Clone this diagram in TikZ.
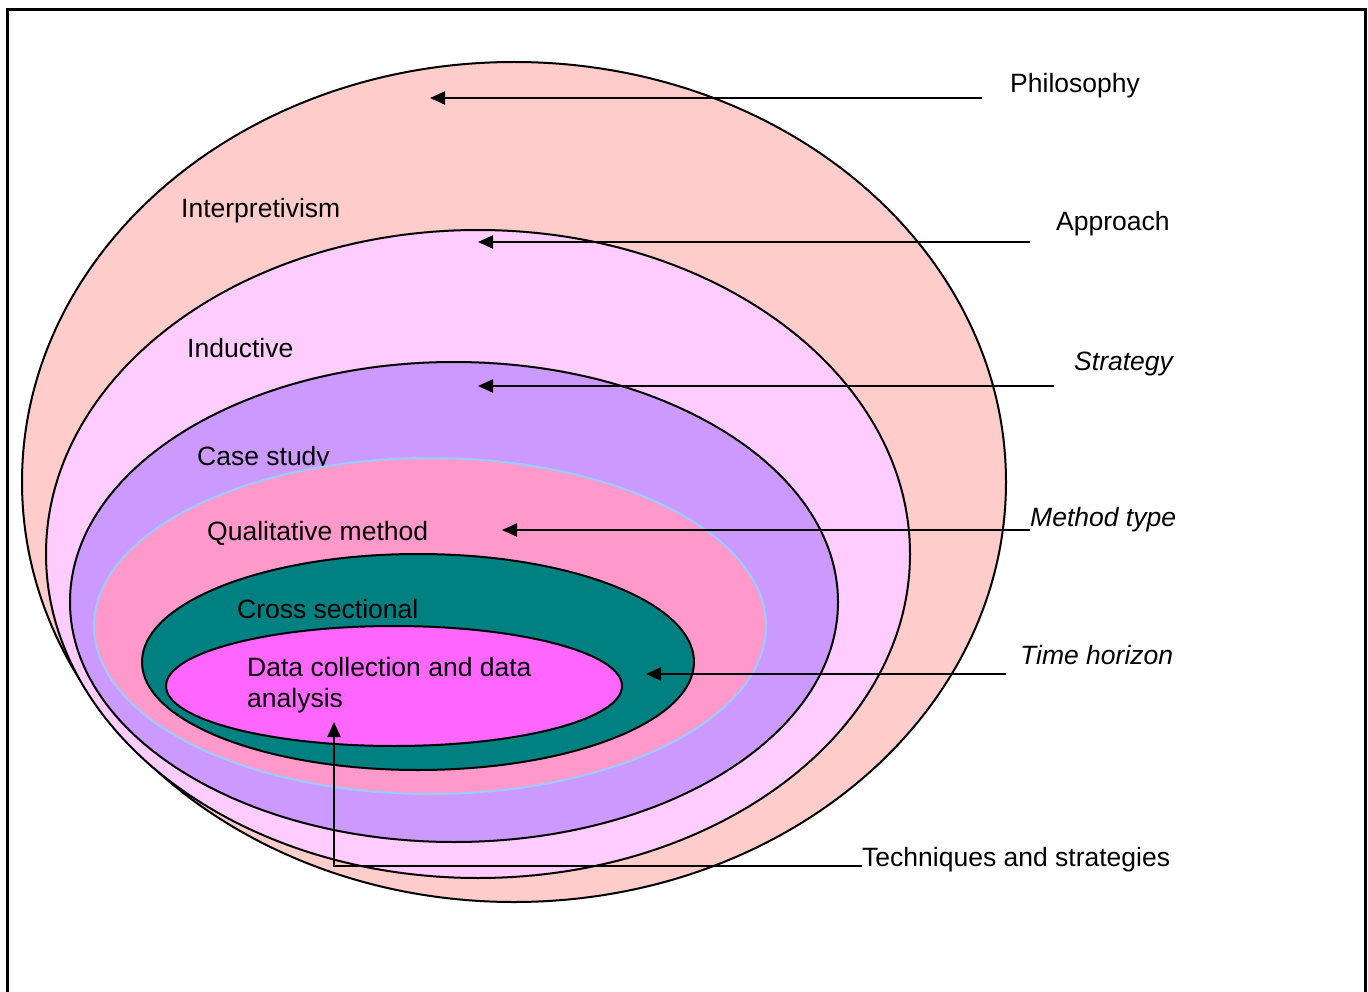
\documentclass[tikz,border=0pt]{standalone}
\usepackage{fontspec}
\setmainfont{Liberation Sans}
\usetikzlibrary{arrows.meta}
\definecolor{philo}{HTML}{FFCCCC}
\definecolor{appr}{HTML}{FFCCFF}
\definecolor{strat}{HTML}{CC99FF}
\definecolor{meth}{HTML}{FF99CC}
\definecolor{methline}{HTML}{99CCFF}
\definecolor{timeh}{HTML}{008080}
\definecolor{datac}{HTML}{FF66FF}
\tikzset{
  layer/.style={draw=black, line width=2pt},
  lbl/.style={anchor=base west, inner sep=0pt, font=\fontsize{26.5}{31}\selectfont},
  ilbl/.style={lbl, font=\fontsize{26.5}{31}\selectfont\itshape},
  pointer/.style={draw=black, line width=2pt, -{Triangle[length=15pt,width=13pt]}}
}
\begin{document}
\begin{tikzpicture}[x=1pt,y=-1pt]
\useasboundingbox (0,0) rectangle (1368,992);
% outer frame, open at the bottom
\draw[line width=3pt] (7,992) -- (7,10) -- (1365,10) -- (1365,992);

% nested layers, outermost first
\draw[layer, fill=philo] (514,482) ellipse [x radius=492, y radius=420];
\node[lbl] (interp) at (181,218) {Interpretivism};
\draw[layer, fill=appr] (478,554) ellipse [x radius=432, y radius=324];
\node[lbl] (induct) at (187,357) {Inductive};
\draw[layer, fill=strat] (454,602) ellipse [x radius=384, y radius=240];
\node[lbl] (case) at (197,465) {Case study};
\draw[draw=methline, line width=2pt, fill=meth] (430,626) ellipse [x radius=336, y radius=168];
\node[lbl] (qual) at (207,540) {Qualitative method};
\draw[layer, fill=timeh] (418,662) ellipse [x radius=276, y radius=108];
\node[lbl] (cross) at (237,618) {Cross sectional};
\draw[layer, fill=datac] (394,686) ellipse [x radius=228, y radius=60];
\node[lbl] (data1) at (247,676) {Data collection and data};
\node[lbl] (data2) at (247,707) {analysis};

% layer names on the right
\node[lbl]  (philL) at (1010,93)  {Philosophy};
\node[lbl]  (apprL) at (1056,231) {Approach};
\node[ilbl] (stratL) at (1074,370) {Strategy};
\node[ilbl] (methL) at (1030,526) {Method type};
\node[ilbl] (timeL) at (1020,664) {Time horizon};
\node[lbl]  (techL) at (862,866)  {Techniques and strategies};

% pointer ends
\coordinate (p1s) at (982,98);   \coordinate (p1e) at (430,98);
\coordinate (p2s) at (1030,242); \coordinate (p2e) at (478,242);
\coordinate (p3s) at (1054,386); \coordinate (p3e) at (478,386);
\coordinate (p4e) at (502,530);
\coordinate (p5s) at (1006,674); \coordinate (p5e) at (646,674);
\coordinate (p6c) at (334,866);  \coordinate (p6e) at (334,722);

\draw[pointer] (p1s) -- (p1e);
\draw[pointer] (p2s) -- (p2e);
\draw[pointer] (p3s) -- (p3e);
\draw[pointer] (methL.base west) ++(0,4) -- (p4e);
\draw[pointer] (p5s) -- (p5e);
\draw[pointer] (techL.base west) -- (p6c) -- (p6e);
\end{tikzpicture}
\end{document}
